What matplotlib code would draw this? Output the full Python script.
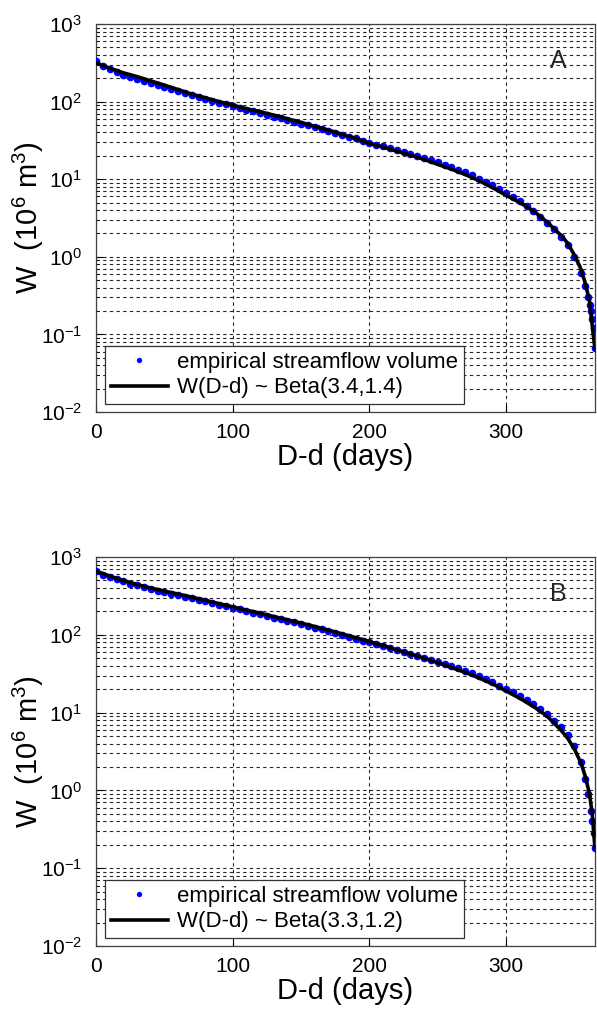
from matplotlib import pyplot as plt
from matplotlib.ticker import LogLocator, NullFormatter

plt.rcParams['font.family'] = ['Liberation Sans', 'DejaVu Sans']
plt.rcParams['mathtext.fontset'] = 'custom'
plt.rcParams['mathtext.rm'] = 'Liberation Sans'
plt.rcParams['mathtext.it'] = 'Liberation Sans'

# panel A - empirical volumes
emp_days_a = [0, 5, 10, 15, 20, 25, 30, 35, 40, 45, 50, 55, 60, 65, 70, 75, 80, 85, 90, 95,
              100, 105, 110, 115, 120, 125, 130, 135, 140, 145, 150, 155, 160, 165, 170, 175,
              180, 185, 190, 195, 200, 205, 210, 215, 220, 225, 230, 235, 240, 245, 250, 255,
              260, 265, 270, 275, 280, 285, 290, 295, 300, 305, 310, 315, 320, 325, 330, 335,
              340, 345, 350, 355, 358, 360, 361, 362, 363, 364, 365]
emp_vol_a = [330, 285, 262, 240, 222, 210, 198, 186, 175, 166, 156, 147, 138, 130, 122, 116,
             109, 103, 97, 92, 87, 83, 79, 75, 71, 67.5, 64, 61, 58, 55, 52, 49.5, 47, 44.5,
             42, 39.5, 37.5, 35.5, 33.5, 31.5, 29.5, 28, 26.5, 25, 23.8, 22.5, 21.3, 20, 18.8,
             17.6, 16.5, 15.4, 14.3, 13.2, 12.2, 11.2, 10.2, 9.3, 8.4, 7.5, 6.7, 5.9, 5.2, 4.5,
             3.9, 3.3, 2.75, 2.25, 1.8, 1.4, 1.0, 0.62, 0.42, 0.3, 0.24, 0.2, 0.16, 0.12, 0.066]

# panel A - fitted beta curve
fit_days_a = [0, 10, 20, 30, 40, 50, 60, 70, 80, 90, 100, 110, 120, 130, 140, 150, 160, 170,
              180, 190, 200, 210, 220, 230, 240, 250, 260, 270, 280, 290, 300, 310, 320, 330,
              340, 345, 350, 355, 358, 361, 363, 364, 365]
fit_vol_a = [316, 270, 235, 210, 185, 163, 143, 125, 112, 100, 90, 81, 74, 67, 60, 54, 48, 43,
             38, 33.5, 29, 26, 23, 20.5, 18, 15.5, 13.5, 11.5, 9.6, 7.8, 6.2, 5.0, 3.9, 2.8,
             1.9, 1.5, 1.05, 0.68, 0.45, 0.27, 0.13, 0.09, 0.066]

# panel B - empirical volumes
emp_days_b = emp_days_a[:-7] + [358, 360, 362, 363, 364, 365]
emp_vol_b = [670, 590, 553, 515, 485, 455, 432, 410, 388, 370, 354, 338, 325, 310, 296, 283,
             270, 257, 245, 233, 222, 212, 202, 193, 184, 175, 167, 159, 151, 145, 138, 131,
             124, 118, 112, 106, 100, 94.5, 89.5, 84.5, 80, 75.5, 71.5, 67, 63, 59.5, 56, 53,
             50, 47, 44.5, 42, 39.5, 37, 34.5, 32, 29.5, 27, 24.5, 22.2, 20.3, 18.2, 16.3,
             14.4, 12.8, 11.1, 9.5, 7.9, 6.5, 5.1, 3.7, 2.3, 1.4, 0.9, 0.55, 0.4, 0.28, 0.18]

# panel B - fitted beta curve
fit_days_b = fit_days_a
fit_vol_b = [660, 570, 500, 445, 400, 365, 335, 305, 278, 252, 229, 208, 190, 172, 156, 142,
             128, 115, 103, 92, 82, 73, 64, 57, 50, 44, 38, 33, 28, 23.5, 19, 15.3, 12, 9, 6,
             4.7, 3.4, 2.2, 1.5, 0.9, 0.5, 0.3, 0.18]

panels = [
    ('A', emp_days_a, emp_vol_a, fit_days_a, fit_vol_a, 'W(D-d) ~ Beta(3.4,1.4)'),
    ('B', emp_days_b, emp_vol_b, fit_days_b, fit_vol_b, 'W(D-d) ~ Beta(3.3,1.2)'),
]

fig = plt.figure(figsize=(5.97, 10.13), dpi=100)
rects = [[0.1608, 0.5933, 0.8358, 0.3830], [0.1608, 0.0661, 0.8358, 0.3840]]

for rect, (tag, ed, ev, fd, fv, fit_label) in zip(rects, panels):
    ax = fig.add_axes(rect)
    ax.plot(ed, ev, 'o', color='#0000ff', markersize=5.5, markeredgewidth=0,
            label='empirical streamflow volume', zorder=3)
    ax.plot(fd, fv, '-', color='black', linewidth=2.6, label=fit_label, zorder=4)

    ax.set_yscale('log')
    ax.set_xlim(0, 365)
    ax.set_ylim(1e-2, 1e3)
    ax.set_xticks([0, 100, 200, 300])
    ax.yaxis.set_minor_locator(LogLocator(base=10, subs=range(2, 10), numticks=50))
    ax.yaxis.set_minor_formatter(NullFormatter())
    ax.set_yticks([1e-2, 1e-1, 1e0, 1e1, 1e2, 1e3])
    ax.set_yticklabels([r'$10^{-2}$', r'$10^{-1}$', r'$10^{0}$', r'$10^{1}$', r'$10^{2}$', r'$10^{3}$'])

    ax.grid(True, which='major', axis='x', color='0.15', linestyle=(0, (3, 3)), linewidth=0.8)
    ax.grid(True, which='both', axis='y', color='0.15', linestyle=(0, (3, 3)), linewidth=0.8)
    ax.tick_params(which='both', direction='in', right=False, top=False)
    ax.tick_params(which='major', length=5, labelsize=15)
    ax.tick_params(which='minor', length=2.5)
    ax.tick_params(axis='x', pad=8)
    ax.tick_params(axis='y', pad=10)
    for sp in ax.spines.values():
        sp.set_linewidth(0.9)
        sp.set_color('0.25')

    ax.set_xlabel('D-d (days)', fontsize=21)
    ax.xaxis.set_label_coords(0.5, -0.115)
    ax.xaxis.label.set_va('center')
    ax.set_ylabel(r'W  (10$^{6}$ m$^{3}$)', fontsize=21)
    ax.yaxis.set_label_coords(-0.135, 0.5)
    ax.yaxis.label.set_va('center')

    ax.text(0.926, 0.905, tag, transform=ax.transAxes, fontsize=18,
            ha='center', va='center', color='0.15')

    leg = ax.legend(loc='lower left', bbox_to_anchor=(0.018, 0.021), borderaxespad=0,
                    fontsize=16, frameon=True, fancybox=False, handlelength=2.6,
                    handletextpad=0.4, borderpad=0.25, labelspacing=0.2, markerscale=0.7)
    leg.get_frame().set_edgecolor('0.2')
    leg.get_frame().set_linewidth(0.9)
    leg.get_frame().set_alpha(1)

plt.savefig('out.png', dpi=100)
